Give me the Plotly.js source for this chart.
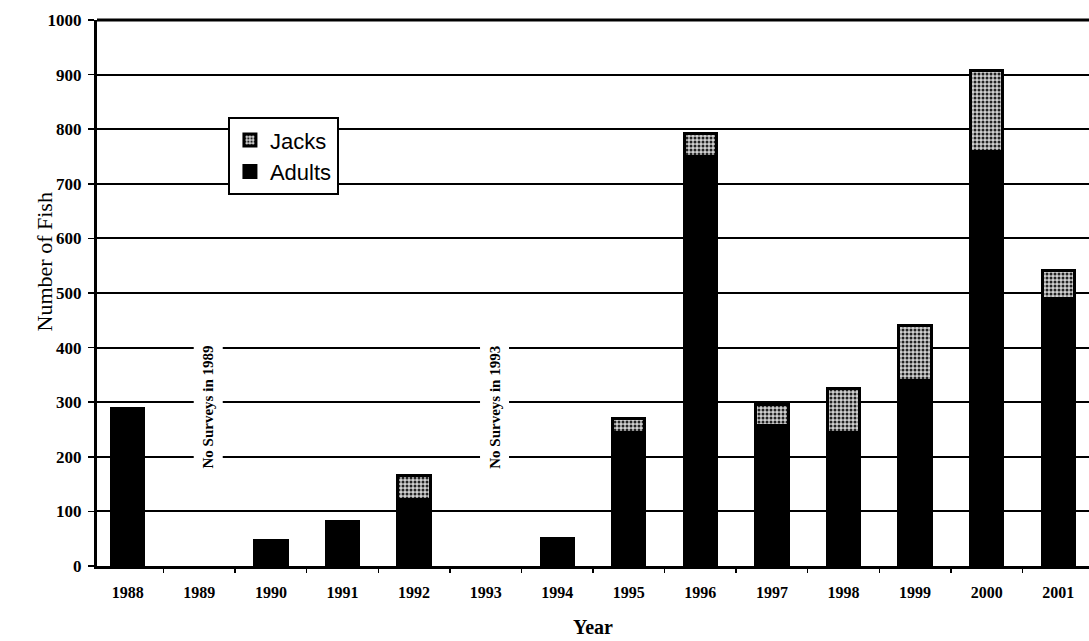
<!DOCTYPE html>
<html>
<head>
<meta charset="utf-8">
<script src="https://cdn.plot.ly/plotly-3.0.1.min.js"></script>
<style>html,body{margin:0;padding:0;background:#fff;}#chart{width:1089px;height:641px;}</style>
</head>
<body>
<div id="chart"></div>
<script>
const years = ["1988","1989","1990","1991","1992","1993","1994","1995","1996","1997","1998","1999","2000","2001"];
const adults = [289, null, 46, 81, 121, null, 50, 245, 750, 257, 245, 340, 760, 490];
const jacks  = [0, null, 0, 0, 45, null, 0, 25, 43, 38, 80, 100, 148, 52];
const noSurveyNotes = [
  {year: "1989", text: "No Surveys in 1989"},
  {year: "1993", text: "No Surveys in 1993"}
];
const yTicks = [0,100,200,300,400,500,600,700,800,900,1000];

const serif = "Liberation Serif, Times New Roman, serif";

const traces = [
  {
    type: "bar", name: "Adults", x: years, y: adults,
    marker: {color: "#000", line: {color: "#000", width: 3}},
    width: 0.45
  },
  {
    type: "bar", name: "Jacks", x: years, y: jacks,
    marker: {
      color: "#c0c0c0",
      line: {color: "#000", width: 3},
      pattern: {shape: ".", fgcolor: "#222", bgcolor: "#d0d0d0", size: 4, solidity: 0.45}
    },
    width: 0.45
  }
];

const notes = noSurveyNotes.map(n => ({
  x: years.indexOf(n.year), y: 291, xref: "x", yref: "y", xshift: 9,
  text: n.text, showarrow: false, textangle: -90,
  bgcolor: "#fff", borderpad: 6,
  font: {family: serif, size: 15, color: "#000", weight: "bold"}
}));
notes.push({
  x: -0.0675, y: 0.557, xref: "paper", yref: "paper",
  text: "Number of Fish", showarrow: false, textangle: -90,
  font: {family: serif, size: 22, color: "#000"}
});

const layout = {
  width: 1089, height: 641,
  margin: {l: 97, r: 0, t: 20, b: 75},
  paper_bgcolor: "#fff", plot_bgcolor: "#fff",
  barmode: "stack",
  showlegend: true,
  legend: {
    x: 0.132, y: 0.822, xanchor: "left", yanchor: "top",
    bgcolor: "#fff", bordercolor: "#000", borderwidth: 2,
    font: {family: "Liberation Sans, Arial, sans-serif", size: 22, color: "#000"},
    traceorder: "reversed", itemwidth: 30, tracegroupgap: 4
  },
  xaxis: {
    type: "category", range: [-0.43, 13.43],
    tickson: "boundaries", ticks: "outside", ticklen: 4, tickcolor: "#000", tickwidth: 1.5,
    ticklabelstandoff: 10,
    showline: true, linecolor: "#000", linewidth: 3, mirror: false,
    showgrid: false,
    tickfont: {family: serif, size: 16, color: "#000", weight: "bold"},
    title: {text: "Year", font: {family: serif, size: 20, color: "#000", weight: "bold"}, standoff: 20},
    automargin: false,
    fixedrange: true
  },
  yaxis: {
    range: [0, 1000], tickvals: yTicks, ticktext: yTicks.map(String),
    ticks: "outside", ticklen: 6, tickcolor: "#000", tickwidth: 1.5,
    ticklabelstandoff: 3,
    showline: true, linecolor: "#000", linewidth: 3,
    showgrid: true, gridcolor: "#000", gridwidth: 2,
    zeroline: false,
    tickfont: {family: serif, size: 17, color: "#000", weight: "bold"},
    automargin: false,
    fixedrange: true
  },
  annotations: notes,
  shapes: [
    {type: "line", xref: "paper", yref: "paper", x0: 0, x1: 1, y0: 1, y1: 1, line: {color: "#000", width: 3}}
  ]
};

Plotly.newPlot("chart", traces, layout, {displayModeBar: false, staticPlot: true});
</script>
</body>
</html>
